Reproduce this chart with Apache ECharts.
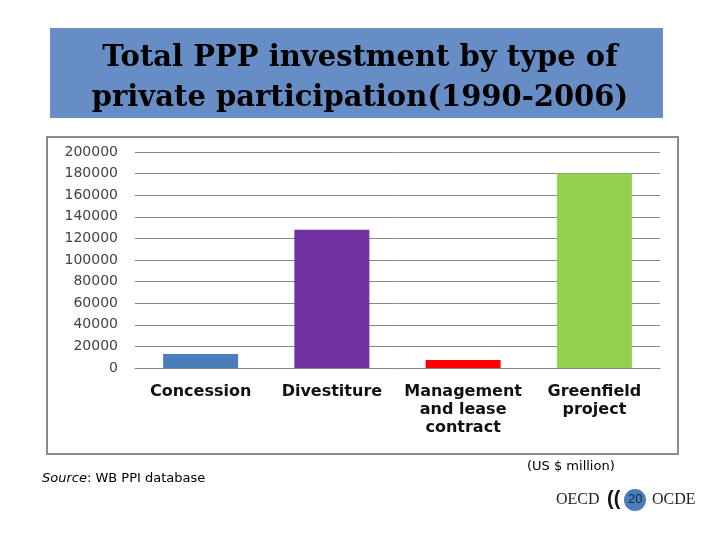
<!DOCTYPE html>
<html>
<head>
<meta charset="utf-8">
<script src="https://cdn.jsdelivr.net/npm/echarts@6/dist/echarts.min.js"></script>
<style>
html, body { margin: 0; padding: 0; background: #fff; }
#chart { width: 720px; height: 540px; }
</style>
</head>
<body>
<div id="chart"></div>
<script>
// values (US $ million)
var categories = ['Concession', 'Divestiture', 'Management\nand lease\ncontract', 'Greenfield\nproject'];
var investment = [13000, 128000, 7500, 180000];
var barColors = ['#4a7ebb', '#7030a0', '#ff0000', '#92d050'];
var yMin = 0, yMax = 200000, yStep = 20000;

var chart = echarts.init(document.getElementById('chart'));
chart.setOption({
    animation: false,
    title: {
        text: 'Total PPP investment by type of\nprivate participation(1990-2006)',
        left: 'center',
        top: 33,
        textStyle: {
            fontFamily: 'DejaVu Serif',
            fontWeight: 'bold',
            fontSize: 29,
            lineHeight: 40,
            color: '#000'
        }
    },
    graphic: [
        {
            type: 'rect', z: -1,
            shape: { x: 50, y: 28, width: 613, height: 90 },
            style: { fill: '#678dc6' }
        },
        {
            type: 'rect', z: -1,
            shape: { x: 47, y: 137, width: 631, height: 317 },
            style: { fill: '#fff', stroke: '#8c8c8c', lineWidth: 2 }
        },
        {
            type: 'text', left: 42, top: 472,
            style: {
                text: '{i|Source}: WB PPI database',
                fontFamily: 'DejaVu Sans', fontSize: 13, fill: '#000',
                rich: { i: { fontStyle: 'italic', fontFamily: 'DejaVu Sans', fontSize: 13 } }
            }
        },
        {
            type: 'text', left: 527, top: 460,
            style: { text: '(US $ million)', fontFamily: 'DejaVu Sans', fontSize: 13, fill: '#000' }
        },
        {
            type: 'text', left: 556, top: 492,
            style: { text: 'OECD', fontFamily: 'Liberation Serif', fontSize: 16, fill: '#222' }
        },
        {
            type: 'text', left: 607, top: 489,
            style: { text: '((', fontFamily: 'Liberation Sans', fontWeight: 'bold', fontSize: 20, fill: '#111' }
        },
        {
            type: 'circle',
            shape: { cx: 635, cy: 500, r: 11 },
            style: { fill: '#4a7ebb' }
        },
        {
            type: 'text', left: 628, top: 493,
            style: { text: '20', fontFamily: 'Liberation Sans', fontSize: 13, fill: '#1a2a40' }
        },
        {
            type: 'text', left: 652, top: 492,
            style: { text: 'OCDE', fontFamily: 'Liberation Serif', fontSize: 16, fill: '#222' }
        }
    ],
    grid: { left: 135, right: 60, top: 152, bottom: 172 },
    xAxis: {
        type: 'category',
        data: categories,
        axisTick: { show: false },
        axisLine: { lineStyle: { color: '#888', width: 1 } },
        axisLabel: {
            margin: 15,
            interval: 0,
            fontFamily: 'DejaVu Sans',
            fontWeight: 'bold',
            fontSize: 16,
            lineHeight: 18,
            color: '#111'
        }
    },
    yAxis: {
        type: 'value',
        min: yMin,
        max: yMax,
        interval: yStep,
        axisLine: { show: false },
        axisTick: { show: false },
        splitLine: { lineStyle: { color: '#888', width: 1 } },
        axisLabel: {
            margin: 17,
            fontFamily: 'DejaVu Sans',
            fontSize: 14,
            color: '#444',
            formatter: function (v) { return String(v); }
        }
    },
    series: [{
        type: 'bar',
        data: investment.map(function (v, i) {
            return { value: v, itemStyle: { color: barColors[i] } };
        }),
        barWidth: 75
    }]
});
</script>
</body>
</html>
